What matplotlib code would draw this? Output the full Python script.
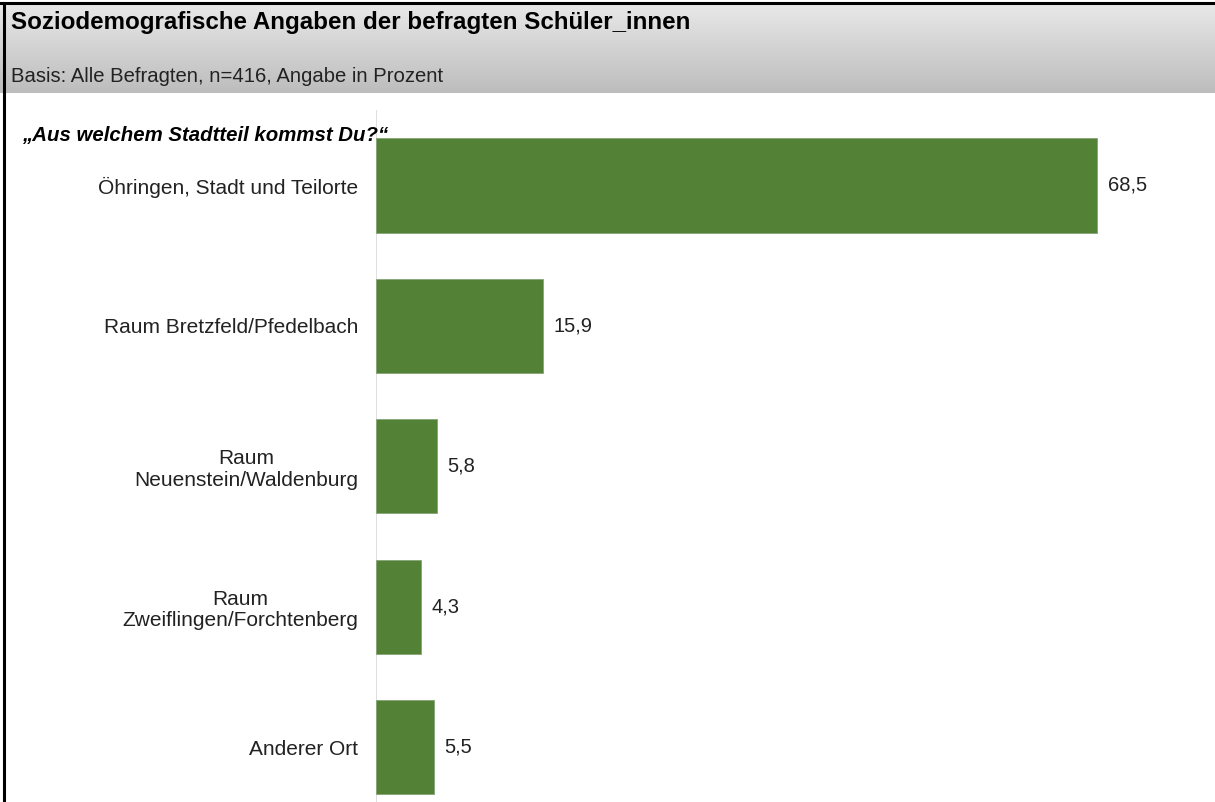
import numpy as np
import matplotlib.pyplot as plt

plt.rcParams['font.family'] = ['Liberation Sans', 'DejaVu Sans']

categories = ["Öhringen, Stadt und Teilorte", "Raum Bretzfeld/Pfedelbach",
              "Raum\nNeuenstein/Waldenburg", "Raum\nZweiflingen/Forchtenberg",
              "Anderer Ort"]
values = [68.5, 15.9, 5.8, 4.3, 5.5]

title = "Soziodemografische Angaben der befragten Schüler_innen"
subtitle = "Basis: Alle Befragten, n=416, Angabe in Prozent"
question = "„Aus welchem Stadtteil kommst Du?“"

W, H = 1215, 802
fig = plt.figure(figsize=(W / 100, H / 100), dpi=100)

# header band with grey gradient
hdr = fig.add_axes([0, 1 - 93 / H, 1, 88 / H])
grad = np.linspace(0.91, 0.74, 100).reshape(-1, 1)
hdr.imshow(np.dstack([grad, grad, grad]), aspect='auto', extent=[0, 1, 0, 1])
hdr.set_axis_off()
fig.text(11 / W, 1 - 23 / H, title, fontsize=17.4, fontweight='bold', va='center')
fig.text(11 / W, 1 - 76 / H, subtitle, fontsize=14.6, va='center', color='#222222')

# frame lines (top and left)
fig.add_artist(plt.Line2D([0, 1], [1 - 3 / H, 1 - 3 / H], color='black', lw=2.2))
fig.add_artist(plt.Line2D([4 / W, 4 / W], [0, 1 - 3 / H], color='black', lw=2.2))

# bar chart
x0 = 376
ax = fig.add_axes([x0 / W, 0, 1 - x0 / W, (802 - 110) / H])
y = np.arange(len(categories))
ax.barh(y, values, height=0.67, color='#538135', edgecolor='#86a477', linewidth=0.6)
ax.set_xlim(0, (W - x0) / 10.526)
ax.set_ylim((802 - 185.5) / 140.4, (110 - 185.5) / 140.4)
ax.axvline(0, color='#d9d9d9', lw=1.2, zorder=0)
for s in ax.spines.values():
    s.set_visible(False)
ax.set_xticks([])
ax.set_yticks(y)
ax.set_yticklabels(categories, fontsize=15, color='#222222', ha='right',
                   multialignment='center', linespacing=1.15)
ax.tick_params(axis='y', length=0, pad=13)
for yi, v in zip(y, values):
    ax.text(v + 1.0, yi, f"{v:.1f}".replace('.', ','), va='center', ha='left',
            fontsize=14.5, color='#222222')

fig.text(22 / W, 1 - 135 / H, question, fontsize=14.7, fontweight='bold',
         fontstyle='italic', va='center')

fig.savefig('out.png', dpi=100)
